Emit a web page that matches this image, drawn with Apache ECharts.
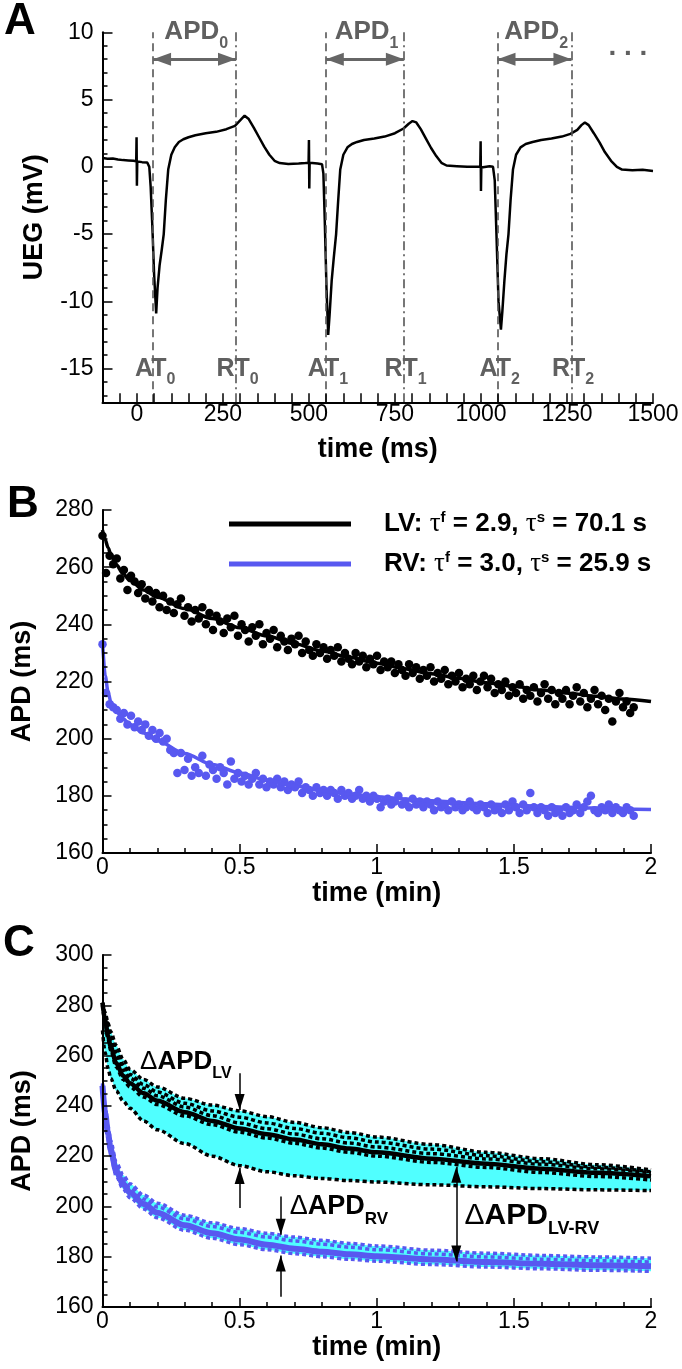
<!DOCTYPE html>
<html><head><meta charset="utf-8">
<script src="https://cdn.jsdelivr.net/npm/echarts@6/dist/echarts.min.js"></script>
<style>html,body{margin:0;padding:0;background:#fff}#c{width:682px;height:1369px}</style>
</head><body><div id="c"></div>
<script>
// ---------- Panel A : unipolar electrogram ----------
const ecgTime = [-100,-85,-70,-55,-40,-25,-10,-2,-1,0,1,15,30,36,40,45,50,56,60,66,72,78,84,91,100,110,122,135,150,170,200,230,260,285,300,313,325,340,355,370,385,400,415,440,470,490,499,500,501,502,525,538,542,546,551,556,560,566,572,579,585,591,600,612,625,640,660,690,720,750,775,790,801,812,825,840,855,870,885,900,930,960,998,999,1000,1001,1025,1035,1040,1045,1051,1058,1062,1068,1074,1080,1086,1093,1102,1115,1130,1150,1175,1205,1235,1260,1280,1292,1302,1313,1328,1345,1360,1378,1395,1410,1440,1470,1500];
const ecgMv = [0.65,0.6,0.62,0.55,0.5,0.48,0.45,0.42,2.2,-1.4,0.4,0.35,0.32,0.0,-1.5,-4.5,-8,-10.9,-9,-7.3,-6.2,-5,-2.5,-0.2,0.9,1.45,1.85,2.05,2.2,2.35,2.5,2.6,2.8,3.05,3.45,3.8,3.55,2.9,2.2,1.5,0.9,0.45,0.28,0.22,0.25,0.28,0.3,2.0,-1.6,0.3,0.25,0.2,-0.5,-4,-9,-12.5,-11,-8.5,-6.8,-5,-2.5,-0.2,0.9,1.45,1.7,1.85,2.0,2.1,2.25,2.5,2.85,3.2,3.4,3.3,2.8,2.1,1.4,0.8,0.3,0.1,0.05,0.0,0.0,1.9,-1.8,-0.05,0.05,0.0,-1,-5,-10,-12.1,-10.8,-8.5,-6.5,-5,-2.5,-0.2,0.9,1.45,1.7,1.85,2.0,2.1,2.25,2.45,2.75,3.1,3.3,3.1,2.5,1.8,1.1,0.45,0.0,-0.2,-0.25,-0.22,-0.3];
const atTimes = [47, 549, 1048];
const rtTimes = [288, 776, 1263];
const aXLabels = [0,250,500,750,1000,1250,1500];
const aXTicks = [-50,0,50,100,150,200,250,300,350,400,450,500,550,600,650,700,750,800,850,900,950,1000,1050,1100,1150,1200,1250,1300,1350,1400,1450,1500];
const aYLabels = [-15,-10,-5,0,5,10];
const aYMinor = [-17,-16,-14,-13,-12,-11,-9,-8,-7,-6,-4,-3,-2,-1,1,2,3,4,6,7,8,9];
const apdArrowLevel = 8;

// ---------- Panel B : APD vs time, LV & RV ----------
const beatTime = [0,0.013,0.026,0.039,0.052,0.065,0.078,0.091,0.104,0.117,
0.13,0.143,0.156,0.169,0.182,0.195,0.208,0.221,0.234,0.247,
0.26,0.273,0.286,0.299,0.312,0.325,0.338,0.351,0.364,0.377,
0.39,0.403,0.416,0.429,0.442,0.455,0.468,0.481,0.494,0.507,
0.52,0.533,0.546,0.559,0.572,0.585,0.598,0.611,0.624,0.637,
0.65,0.663,0.676,0.689,0.702,0.715,0.728,0.741,0.754,0.767,
0.78,0.793,0.806,0.819,0.832,0.845,0.858,0.871,0.884,0.897,
0.91,0.923,0.936,0.949,0.962,0.975,0.988,1.001,1.014,1.027,
1.04,1.053,1.066,1.079,1.092,1.105,1.118,1.131,1.144,1.157,
1.17,1.183,1.196,1.209,1.222,1.235,1.248,1.261,1.274,1.287,
1.3,1.313,1.326,1.339,1.352,1.365,1.378,1.391,1.404,1.417,
1.43,1.443,1.456,1.469,1.482,1.495,1.508,1.521,1.534,1.547,
1.56,1.573,1.586,1.599,1.612,1.625,1.638,1.651,1.664,1.677,
1.69,1.703,1.716,1.729,1.742,1.755,1.768,1.781,1.794,1.807,
1.82,1.833,1.846,1.859,1.872,1.885,1.898,1.911,1.924,1.937];
const lvApd = [271,258,264,261,263,256,259,252,257,255,
251,254,249,252,248,251,246,250,245,248,
244,247,249,243,246,241,245,242,246,240,
244,238,243,241,237,242,239,243,236,240,
238,234,239,236,240,233,237,235,238,232,
236,234,231,235,233,236,230,234,231,229,
233,230,232,228,231,229,232,227,230,228,
226,230,227,229,225,228,226,229,224,227,
225,227,223,226,224,222,226,223,225,221,
224,222,225,220,223,221,224,219,222,220,
223,218,221,219,222,217,220,222,218,221,
216,219,217,220,215,218,216,219,214,217,
215,218,213,216,219,214,217,212,216,214,
217,212,215,218,213,216,211,214,217,212,
215,210,214,206,213,216,211,213,209,211];
const rvApd = [233,216,212,211,210,207,209,205,208,204,
206,203,205,201,203,200,202,199,200,196,
195,188,195,189,193,187,190,188,194,187,
191,189,186,190,188,184,192,186,188,185,
187,184,186,188,184,186,183,185,184,186,
183,185,182,184,183,185,181,183,182,180,
183,181,182,180,182,181,179,182,180,181,
179,180,182,179,180,178,180,179,176,178,
179,177,178,180,177,178,176,179,177,178,
176,178,177,175,178,176,177,175,178,176,
177,175,176,178,176,175,177,176,174,177,
175,176,174,177,175,178,176,174,177,175,
181,176,174,176,175,173,176,174,175,173,
176,174,175,177,174,176,178,180,175,174,
176,175,177,174,176,175,174,176,175,173];
const fitTime = [0,0.01,0.02,0.03,0.05,0.075,0.1,0.15,0.2,0.3,0.4,0.5,0.6,0.7,0.8,0.9,1.0,1.1,1.2,1.3,1.4,1.5,1.6,1.7,1.8,1.9,2.0];
const lvFit = [273,269.6,266.9,264.6,260.9,257.7,255.3,252,249.5,245.5,242,238.8,235.9,233.2,230.7,228.5,226.4,224.5,222.7,221.1,219.6,218.3,217,215.9,214.8,213.9,213];
const rvFit = [234,222,216.5,213,209.5,207,205,202,199.3,194.8,191,188,185.5,183.4,181.8,180.6,179.7,178.9,178.3,177.7,177.2,176.7,176.3,176,175.7,175.4,175.2];

// ---------- Panel C : mean curves and spread ----------
const tC = [0,0.01,0.02,0.03,0.05,0.075,0.1,0.15,0.2,0.3,0.4,0.5,0.6,0.7,0.8,0.9,1.0,1.2,1.4,1.6,1.8,2.0];
const lvMean = [281,274,268,263.5,257,252,249,245,242,237.5,234,231,228.7,226.6,224.7,223,221.5,219,217,215,213.4,212];
const lvUp1 = [281,277,273,269.5,264,258.5,254.5,250.5,247.5,243,240.3,238,235.7,233.4,231.3,229.4,227.6,224.6,221.5,219,216.6,214.5];
const lvUp2 = [281,276,271.5,267.5,261.5,256.5,252.5,248.5,245.5,241,238,235.5,233.2,231,229.1,227.3,225.6,222.8,220.2,217.8,215.6,213.8];
const lvUp3 = [281,275,270,265.5,259.3,254.3,251,247,244,239.5,236.1,233.2,230.9,228.8,226.9,225.2,223.6,221,218.9,216.8,215,213.4];
const lvLo1 = [280,272.5,266.5,262,255.5,250.5,247.5,243.5,240.5,236,232.5,229.5,227.2,225.1,223.2,221.5,220,217.5,215.5,213.5,211.9,210.5];
const lvLo = [270,261,255,251,246,242,239,234,230.5,225,220,216.2,213.8,212.2,211.1,210.3,209.7,208.6,207.8,207.1,206.6,206.3];
const rvMean = [248,237,229,222.5,214,209,205.5,201,197.5,192.5,189.3,186.8,184.8,183.2,182,181,180.2,178.9,177.9,177.2,176.6,176.2];
const rvUp1 = [249,240,232,226,217.5,212.5,209,204.5,201.3,196.5,193.5,191.2,189.3,187.8,186.5,185.3,184.3,182.6,181.4,180.5,179.9,179.4];
const rvUp2 = [248.5,239,230.5,224.5,216,211,207.5,203,199.8,195,192,189.7,187.8,186.3,185,183.8,182.8,181.1,179.9,179,178.4,177.9];
const rvLo = [247,235,227,220.5,212,207,203.5,199,195.5,190.5,187.3,184.8,182.8,181.2,180,179,178.2,176.9,175.9,175.2,174.6,174.2];
// annotation arrows in panel C: [time, from APD, to APD]
const cArrowsDown = [[0.5, 253, 238.4], [0.65, 203.9, 188.7]];
const cArrowsUp = [[0.5, 199.4, 215.3], [0.65, 164.1, 180.5]];
const cArrowBoth = [1.29, 215.8, 178.1];

// ---------- styling ----------
const FONT = '"Liberation Sans", Arial, Helvetica, sans-serif';
const SERIF = '"Liberation Serif", "Times New Roman", serif';
const BLUE = '#5858f0';
const CYAN = '#50ffff';
const GRAY = '#606060';
const ARROW = 'path://M0,-10 L0,-10 M0,0 L5,10 L-5,10 Z';

function merge(a, b) {
  const o = Object.assign({}, a);
  for (const k in b) {
    const v = b[k];
    if (v && typeof v === 'object' && !Array.isArray(v) && a && a[k] && typeof a[k] === 'object' && !Array.isArray(a[k])) o[k] = merge(a[k], v);
    else o[k] = v;
  }
  return o;
}
const zip = (xs, ys) => xs.map((x, i) => [x, ys[i]]);

const baseAxis = {
  type: 'value', z: 6,
  axisLine: {show: true, onZero: false, lineStyle: {color: '#000', width: 2}},
  axisTick: {show: true, inside: true, length: 9, lineStyle: {color: '#000', width: 1.5}},
  minorTick: {show: false},
  splitLine: {show: false}, minorSplitLine: {show: false},
  axisLabel: {color: '#000', fontSize: 23, fontFamily: FONT, formatter: v => String(v)},
  nameLocation: 'middle',
  nameTextStyle: {color: '#000', fontSize: 27, fontWeight: 'bold', fontFamily: FONT}
};
const minorT = (n) => ({show: true, splitNumber: n, length: 5, lineStyle: {color: '#000', width: 1.5}});

const lineBase = {type: 'line', showSymbol: false, symbol: 'none', smooth: 0.3, smoothMonotone: 'x', silent: true};
function cLine(data, color, width, dashed) {
  return merge(lineBase, {xAxisIndex: 2, yAxisIndex: 3, data: zip(tC, data),
    lineStyle: {color: color, width: width, type: dashed ? [4, 3] : 'solid', cap: 'butt'}});
}
// band: fill below the upper edge with cyan, then cover below the lower edge with white
function bandFill(data, color) {
  return merge(lineBase, {xAxisIndex: 2, yAxisIndex: 3, data: zip(tC, data),
    lineStyle: {width: 0, opacity: 0}, areaStyle: {color: color, opacity: 1, origin: 'start'}});
}
function vArrow(list, both) {
  return list.map(a => [{coord: [a[0], a[1]], symbol: both ? ARROW : 'none'}, {coord: [a[0], a[2]], symbol: ARROW}]);
}

const chart = echarts.init(document.getElementById('c'), null, {renderer: 'canvas'});

const option = {
  animation: false,
  backgroundColor: '#fff',
  textStyle: {fontFamily: FONT},
  grid: [
    {left: 102.5, top: 32.3, width: 550.5, height: 370, outerBoundsMode: 'none'},
    {left: 102.5, top: 510, width: 548.5, height: 343, outerBoundsMode: 'none'},
    {left: 102.5, top: 955, width: 548.5, height: 352, outerBoundsMode: 'none'}
  ],
  legend: {
    show: true, orient: 'vertical', left: 229, top: 510.5, padding: 0,
    itemWidth: 122, itemHeight: 5, itemGap: 13, icon: 'rect', selectedMode: false,
    data: ['LV', 'RV'],
    formatter: n => n === 'LV'
      ? '{g| }{b|LV: }{t|τ}{p|f}{b| = 2.9, }{t|τ}{p|s}{b| = 70.1 s}'
      : '{g| }{b|RV: }{t|τ}{p|f}{b| = 3.0, }{t|τ}{p|s}{b| = 25.9 s}',
    textStyle: {
      rich: {
        g: {width: 28},
        b: {fontSize: 26, fontWeight: 'bold', fontFamily: FONT, color: '#000', lineHeight: 27, verticalAlign: 'middle'},
        t: {fontSize: 27, fontFamily: SERIF, color: '#000', lineHeight: 27, verticalAlign: 'middle'},
        p: {fontSize: 15, fontWeight: 'bold', fontFamily: FONT, color: '#000', lineHeight: 15, verticalAlign: 'top'}
      }
    }
  },
  xAxis: [
    merge(baseAxis, {gridIndex: 0, min: -100, max: 1500, name: 'time (ms)', nameGap: 34,
      axisTick: {customValues: aXTicks}, axisLabel: {customValues: aXLabels, margin: 1}}),
    merge(baseAxis, {gridIndex: 1, min: 0, max: 2, interval: 0.5, name: 'time (min)', nameGap: 27,
      minorTick: minorT(5), axisLabel: {margin: 3}}),
    merge(baseAxis, {gridIndex: 2, min: 0, max: 2, interval: 0.5, name: 'time (min)', nameGap: 27,
      minorTick: minorT(5), axisLabel: {margin: 3}})
  ],
  yAxis: [
    merge(baseAxis, {gridIndex: 0, min: -17.5, max: 10, name: 'UEG (mV)', nameGap: 54,
      axisTick: {customValues: aYLabels, length: 10}, axisLabel: {customValues: aYLabels, margin: 9}}),
    merge(baseAxis, {gridIndex: 0, position: 'left', offset: 0, min: -17.5, max: 10,
      axisLine: {show: false}, axisLabel: {show: false}, axisTick: {customValues: aYMinor, length: 5}}),
    merge(baseAxis, {gridIndex: 1, min: 160, max: 280, interval: 20, name: 'APD (ms)', nameGap: 66,
      minorTick: minorT(4), axisLabel: {margin: 9}}),
    merge(baseAxis, {gridIndex: 2, min: 160, max: 300, interval: 20, name: 'APD (ms)', nameGap: 66,
      minorTick: minorT(4), axisLabel: {margin: 9}})
  ],
  series: [
    // A
    merge(lineBase, {name: 'UEG', smooth: false, xAxisIndex: 0, yAxisIndex: 0, data: zip(ecgTime, ecgMv),
      lineStyle: {color: '#000', width: 2.5}, z: 3}),
    {type: 'line', name: 'AT', xAxisIndex: 0, yAxisIndex: 0, data: [], silent: true,
      markLine: {silent: true, symbol: 'none', label: {show: false}, animation: false,
        lineStyle: {color: '#555', width: 1.6, type: [8, 5]}, data: atTimes.map(t => ({xAxis: t}))}},
    {type: 'line', name: 'RT', xAxisIndex: 0, yAxisIndex: 0, data: [], silent: true,
      markLine: {silent: true, symbol: 'none', label: {show: false}, animation: false,
        lineStyle: {color: '#555', width: 1.6, type: [9, 4, 2, 4]}, data: rtTimes.map(t => ({xAxis: t}))}},
    {type: 'line', name: 'APDarrows', xAxisIndex: 0, yAxisIndex: 0, data: [], silent: true,
      markLine: {silent: true, symbol: [ARROW, ARROW], symbolSize: [13, 36], label: {show: false}, animation: false,
        lineStyle: {color: '#666', width: 3, type: 'solid'},
        data: atTimes.map((t, i) => [{coord: [t, apdArrowLevel]}, {coord: [rtTimes[i], apdArrowLevel]}])}},
    // B
    {type: 'scatter', name: 'LV data', xAxisIndex: 1, yAxisIndex: 2, data: zip(beatTime, lvApd), symbolSize: 8.5, itemStyle: {color: '#000', opacity: 1}, silent: true},
    {type: 'scatter', name: 'RV data', xAxisIndex: 1, yAxisIndex: 2, data: zip(beatTime, rvApd), symbolSize: 8.5, itemStyle: {color: BLUE, opacity: 1}, silent: true},
    merge(lineBase, {name: 'LV', xAxisIndex: 1, yAxisIndex: 2, data: zip(fitTime, lvFit), lineStyle: {color: '#000', width: 3.5}, itemStyle: {color: '#000'}}),
    merge(lineBase, {name: 'RV', xAxisIndex: 1, yAxisIndex: 2, data: zip(fitTime, rvFit), lineStyle: {color: BLUE, width: 3.5}, itemStyle: {color: BLUE}}),
    // C : spread bands
    bandFill(lvUp1, CYAN),
    bandFill(lvLo, '#fff'),
    bandFill(rvUp1, CYAN),
    bandFill(rvLo, '#fff'),
    // C : curves
    cLine(lvUp1, '#000', 3.5, true),
    cLine(lvUp2, '#000', 3.5, true),
    cLine(lvUp3, '#000', 3.5, true),
    cLine(lvLo1, '#000', 3.5, true),
    cLine(lvLo, '#000', 3.5, true),
    cLine(lvMean, '#000', 4.5, false),
    cLine(rvUp1, BLUE, 3.5, true),
    cLine(rvUp2, BLUE, 3.5, true),
    cLine(rvLo, BLUE, 3.5, true),
    cLine(rvMean, BLUE, 6, false),
    {type: 'line', name: 'Carrows', xAxisIndex: 2, yAxisIndex: 3, data: [], silent: true, z: 5,
      markLine: {silent: true, symbol: ['none', ARROW], symbolSize: [10, 32], label: {show: false}, animation: false,
        lineStyle: {color: '#000', width: 1.5, type: 'solid'},
        data: [...vArrow(cArrowsDown, false), ...vArrow(cArrowsUp, false), ...vArrow([cArrowBoth], true)]}}
  ]
};
chart.setOption(option);

// ---------- text annotations placed through the axes ----------
const P = (xi, yi, x, y) => chart.convertToPixel({xAxisIndex: xi, yAxisIndex: yi}, [x, y]);
const els = [];
function letter(ch, x, y) {
  els.push({type: 'text', x: x, y: y, silent: true, z: 100,
    style: {text: ch, font: 'bold 44px ' + FONT, fill: '#000', align: 'center', verticalAlign: 'middle'}});
}
letter('A', 20, 22); letter('B', 23, 505); letter('C', 19, 944);

function richSub(color, big, small, bold) {
  return {
    d: {fontSize: big, fontFamily: FONT, fontWeight: 'normal', fill: color, verticalAlign: 'middle', lineHeight: big},
    m: {fontSize: big, fontFamily: FONT, fontWeight: bold ? 'bold' : 'normal', fill: color, verticalAlign: 'middle', lineHeight: big},
    s: {fontSize: small, fontFamily: FONT, fontWeight: 'bold', fill: color, verticalAlign: 'bottom', lineHeight: Math.round(big * 1.5)}
  };
}
function rtext(x, y, text, rich, align) {
  els.push({type: 'text', x: x, y: y, silent: true, z: 100,
    style: {text: text, rich: rich, align: align || 'left', verticalAlign: 'middle'}});
}
atTimes.forEach((at, i) => {
  const rt = rtTimes[i];
  const c = P(0, 0, (at + rt) / 2 + 5, 10);
  rtext(c[0], c[1], '{m|APD}{s|' + i + '}', richSub(GRAY, 26, 16, true), 'center');
  const a = P(0, 0, at, -15);
  rtext(a[0] - 18, a[1], '{m|AT}{s|' + i + '}', richSub(GRAY, 25, 16, true), 'left');
  const r = P(0, 0, rt, -15);
  rtext(r[0] - 19.5, r[1], '{m|RT}{s|' + i + '}', richSub(GRAY, 25, 16, true), 'left');
});
const dots = P(0, 0, 1427, 8.3);
els.push({type: 'text', x: dots[0], y: dots[1] - 8, silent: true, z: 100,
  style: {text: '. . .', font: 'bold 28px ' + FONT, fill: GRAY, align: 'center', verticalAlign: 'middle'}});

const l1 = P(2, 3, 0.137, 257.5);
rtext(l1[0], l1[1], '{d|Δ}{m|APD}{s|LV}', richSub('#000', 26, 16, true), 'left');
const l2 = P(2, 3, 0.683, 199.8);
rtext(l2[0], l2[1], '{d|Δ}{m|APD}{s|RV}', richSub('#000', 27, 17, true), 'left');
const l3 = P(2, 3, 1.32, 196.2);
rtext(l3[0], l3[1], '{d|Δ}{m|APD}{s|LV-RV}', richSub('#000', 30, 18, true), 'left');

chart.setOption({graphic: els});
</script>
</body></html>
